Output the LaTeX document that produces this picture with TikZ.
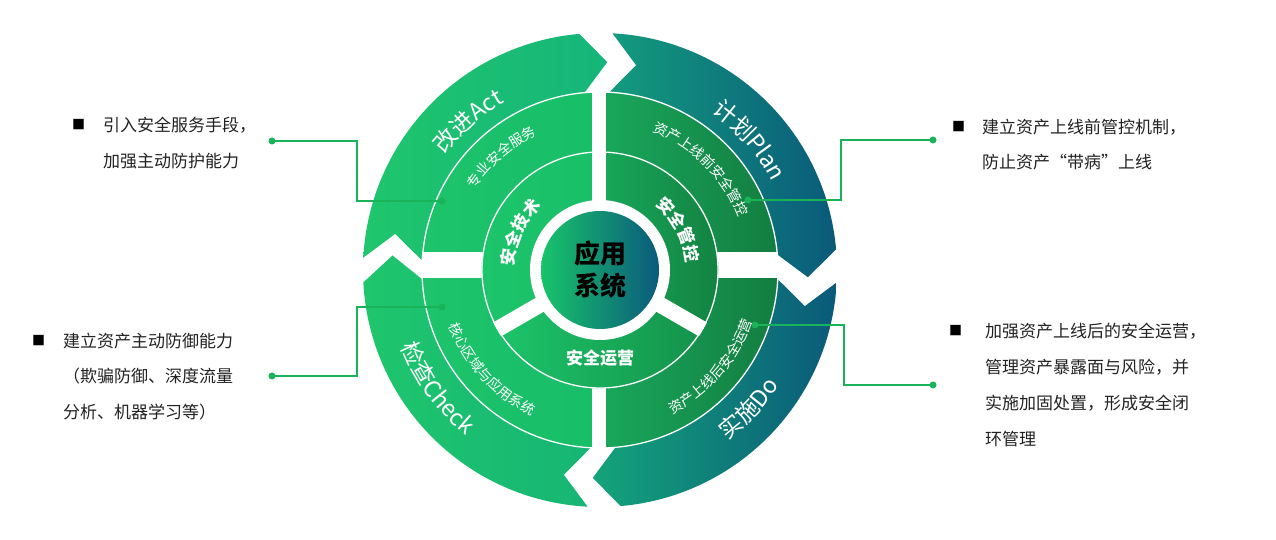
\documentclass[tikz,border=0pt]{standalone}
\usepackage{fontspec}
\setmainfont{Noto Sans CJK SC}
\usetikzlibrary{calc,decorations.text}
\definecolor{lineg}{HTML}{19B35A}
\definecolor{txt}{HTML}{222222}
\begin{document}
\begin{tikzpicture}[x=1pt,y=1pt,
  side/.style={anchor=west,text=txt,font=\fontsize{17}{17}\selectfont,inner sep=0},
  bul/.style={anchor=west,text=black,font=\fontsize{13}{13}\selectfont,inner sep=0},
  conn/.style={lineg,line width=2pt},
  dot/.style={circle,fill=lineg,inner sep=0,minimum size=7pt}]
\useasboundingbox (0,0) rectangle (1276,540);
\begin{scope}[shift={(600,270)}]
% outer arrows
\def\arrowpath#1#2{(#1:237pt) arc[start angle=#1,end angle=#2,radius=237pt] -- ({#2-7}:208pt) -- (#2:178pt) arc[start angle=#2,end angle=#1,radius=178pt] -- ({#1-7}:208pt) -- cycle}
\shade[left color={rgb,255:red,31;green,198;blue,108},right color={rgb,255:red,21;green,181;blue,122}] \arrowpath{177}{95};
\shade[left color={rgb,255:red,19;green,156;blue,126},right color={rgb,255:red,10;green,90;blue,122}] \arrowpath{87}{5};
\shade[left color={rgb,255:red,20;green,164;blue,122},right color={rgb,255:red,10;green,90;blue,122}] \arrowpath{-3}{-85};
\shade[left color={rgb,255:red,31;green,198;blue,108},right color={rgb,255:red,22;green,181;blue,117}] \arrowpath{-93}{-177};
% middle quadrants
\def\sect#1#2#3#4{(#1:#3) arc[start angle=#1,end angle=#2,radius=#3] -- (#2:#4) arc[start angle=#2,end angle=#1,radius=#4] -- cycle}
\shade[left color={rgb,255:red,29;green,196;blue,107},right color={rgb,255:red,24;green,189;blue,104}] \sect{90}{180}{178pt}{118pt};
\shade[left color={rgb,255:red,29;green,196;blue,107},right color={rgb,255:red,24;green,189;blue,104}] \sect{180}{270}{178pt}{118pt};
\shade[left color={rgb,255:red,25;green,168;blue,92},right color={rgb,255:red,19;green,125;blue,64}] \sect{0}{90}{178pt}{118pt};
\shade[left color={rgb,255:red,25;green,168;blue,92},right color={rgb,255:red,19;green,125;blue,64}] \sect{-90}{0}{178pt}{118pt};
% inner sectors
\shade[left color={rgb,255:red,28;green,196;blue,106},right color={rgb,255:red,25;green,191;blue,104}] \sect{90}{210}{118pt}{60pt};
\shade[left color={rgb,255:red,24;green,168;blue,90},right color={rgb,255:red,18;green,125;blue,62}] \sect{-30}{90}{118pt}{60pt};
\shade[left color={rgb,255:red,28;green,196;blue,106},right color={rgb,255:red,20;green,147;blue,74}] \sect{210}{330}{118pt}{60pt};
% gaps
\begin{scope}[even odd rule]
\clip (0,0) circle[radius=178.5pt] (0,0) circle[radius=118.5pt];
\fill[white] (-8,-180) rectangle (6,180);
\fill[white] (-180,-8) rectangle (180,18);
\end{scope}
\begin{scope}
\clip (0,0) circle[radius=119pt];
\draw[white,line width=16pt] (0,0) -- (210:125pt);
\draw[white,line width=16pt] (0,0) -- (330:125pt);
\fill[white] (-8,0) rectangle (6,125);
\end{scope}
\draw[white,line width=1.3pt] (0,0) circle[radius=118pt];
\draw[white,line width=1.3pt] (0,0) circle[radius=178pt];
\fill[white] (0,0) circle[radius=70pt];
\shade[left color={rgb,255:red,24;green,196;blue,106},right color={rgb,255:red,11;green,90;blue,124}] (0,0) circle[radius=59pt];
\node[align=center,font=\fontsize{26}{32}\selectfont\bfseries,text=black] (ctr) at (0,0) {应用\\系统};
% middle texts
\path[decorate,decoration={text along path,text align=center,text color=white,text={|\fontsize{14}{14}\selectfont|专业安全服务}}] (161:149pt) arc[start angle=161,end angle=101,radius=149pt];
\path[decorate,decoration={text along path,text align=center,text color=white,text={|\fontsize{14}{14}\selectfont|资产上线前安全管控}}] (80:148pt) arc[start angle=80,end angle=10,radius=148pt];
\path[decorate,decoration={text along path,text align=center,text color=white,text={|\fontsize{14}{14}\selectfont|资产上线后安全运营}}] (-78:161pt) arc[start angle=-78,end angle=-4,radius=161pt];
\path[decorate,decoration={text along path,text align=center,text color=white,text={|\fontsize{14}{14}\selectfont|核心区域与应用系统}}] (185:161pt) arc[start angle=185,end angle=260,radius=161pt];
% inner texts
\path[decorate,decoration={text along path,text align=center,text color=white,text={|\fontsize{17}{17}\selectfont\bfseries|安全技术}}] (190:86pt) arc[start angle=190,end angle=120,radius=86pt];
\path[decorate,decoration={text along path,text align=center,text color=white,text={|\fontsize{17}{17}\selectfont\bfseries|安全管控}}] (62:86pt) arc[start angle=62,end angle=-8,radius=86pt];
\node[text=white,font=\fontsize{17}{17}\selectfont\bfseries] (yy) at (0,-88) {安全运营};
% outer labels
\path[decorate,decoration={text along path,text align=center,text color=white,text={|\fontsize{23}{23}\selectfont|改进Act}}] (165:193pt) arc[start angle=165,end angle=98,radius=193pt];
\path[decorate,decoration={text along path,text align=center,text color=white,text={|\fontsize{23}{23}\selectfont|计划Plan}}] (78:193pt) arc[start angle=78,end angle=4,radius=193pt];
\path[decorate,decoration={text along path,text align=center,text color=white,text={|\fontsize{23}{23}\selectfont|实施Do}}] (-78:213pt) arc[start angle=-78,end angle=-8,radius=213pt];
\path[decorate,decoration={text along path,text align=center,text color=white,text={|\fontsize{23}{23}\selectfont|检查Check}}] (180:213pt) arc[start angle=180,end angle=252,radius=213pt];
\end{scope}
% side texts
\node[bul] (b1) at (72,415) {■};
\node[side] (t1a) at (103,415) {引入安全服务手段，};
\node[side] (t1b) at (103,379) {加强主动防护能力};
\node[bul] (b2) at (32,199) {■};
\node[side] (t2a) at (63,199) {建立资产主动防御能力};
\node[side] (t2b) at (63,164) {（欺骗防御、深度流量};
\node[side] (t2c) at (63,128) {分析、机器学习等）};
\node[bul] (b3) at (952,413) {■};
\node[side] (t3a) at (982,413) {建立资产上线前管控机制，};
\node[side] (t3b) at (982,378) {防止资产“带病”上线};
\node[bul] (b4) at (949,209) {■};
\node[side] (t4a) at (985,209) {加强资产上线后的安全运营，};
\node[side] (t4b) at (985,173) {管理资产暴露面与风险，并};
\node[side] (t4c) at (985,137) {实施加固处置，形成安全闭};
\node[side] (t4d) at (985,101) {环管理};
% connectors
\node[dot] (d1) at (272,399) {};
\node[dot] (e1) at (442,339) {};
\node[dot] (d2) at (272,164) {};
\node[dot] (e2) at (442,233) {};
\node[dot] (d3) at (933,400) {};
\node[dot] (e3) at (748,340) {};
\node[dot] (d4) at (933,155) {};
\node[dot] (e4) at (755,215) {};
\draw[conn] (d1.center) -| ($(d1)!.5!(e1)$) |- (e1.center);
\draw[conn] (d2.center) -| ($(d2)!.5!(e2)$) |- (e2.center);
\draw[conn] (d3.center) -| ($(d3)!.5!(e3)$) |- (e3.center);
\draw[conn] (d4.center) -| ($(d4)!.5!(e4)$) |- (e4.center);
\end{tikzpicture}
\end{document}
